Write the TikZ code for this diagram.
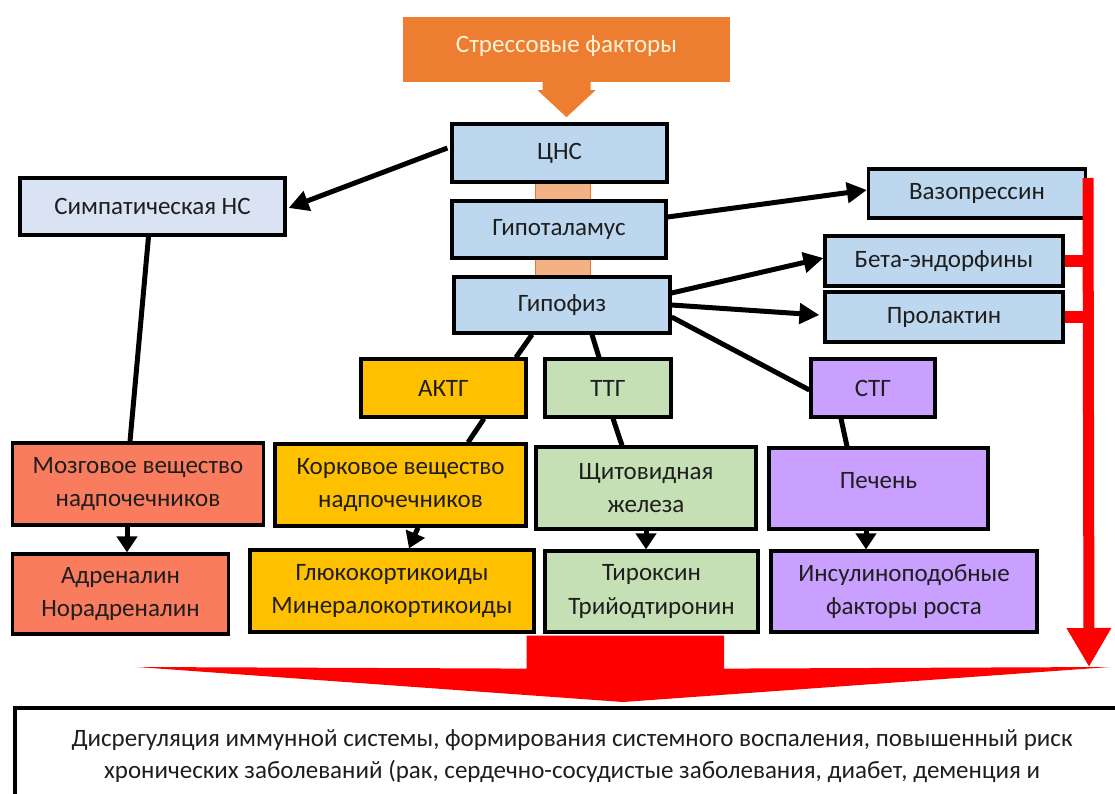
\documentclass[tikz,border=0pt]{standalone}
\usepackage{fontspec}
\setmainfont{Carlito}
\usetikzlibrary{arrows.meta,calc,backgrounds}

\definecolor{txt}{HTML}{1E1E1E}
\definecolor{stressor}{HTML}{ED7D31}
\definecolor{stresstxt}{HTML}{FFF4D6}
\definecolor{barfill}{HTML}{F4B183}
\definecolor{barline}{HTML}{E0783A}
\definecolor{cnsblue}{HTML}{BDD7EE}
\definecolor{paleblue}{HTML}{DAE3F3}
\definecolor{gold}{HTML}{FFC000}
\definecolor{pgreen}{HTML}{C5E0B4}
\definecolor{lilac}{HTML}{C9A0FF}
\definecolor{salmon}{HTML}{F97C5E}
\definecolor{alarm}{HTML}{FF0000}

\begin{document}
\begin{tikzpicture}[x=1pt,y=-1pt,
  box/.style={draw=black, line width=3.2pt, inner sep=0pt, align=center,
              text=txt, font=\fontsize{25}{33.5}\selectfont},
  link/.style={line width=5pt, draw=black},
  arr/.style={link, -{Triangle[length=20pt,width=20pt]}},
  sarr/.style={link, -{Triangle[length=16pt,width=20pt]}}]
\useasboundingbox (0,0) rectangle (1115,794);

% stress factors callout
\node[fill=stressor, inner sep=0pt, minimum width=327pt, minimum height=65pt,
      text=stresstxt, font=\fontsize{25}{33}\selectfont] (stress) at (566.5,49.5)
      {\raisebox{3pt}[\height][\depth]{Стрессовые факторы}};
\fill[stressor] ($(stress.south)+(-24,-1)$) -- ($(stress.south)+(24,-1)$) -- ($(stress.south)+(24,8)$)
  -- ($(stress.south)+(29,8)$) -- ($(stress.south)+(0,35)$) -- ($(stress.south)+(-29,8)$)
  -- ($(stress.south)+(-24,8)$) -- cycle;

% central axis
\node[box, fill=cnsblue, minimum width=215pt, minimum height=58pt] (cns) at (559.5,153) {ЦНС};
\node[box, fill=cnsblue, minimum width=214pt, minimum height=57pt] (hypoth) at (559,229.5) {Гипоталамус};
\node[box, fill=cnsblue, minimum width=216pt, minimum height=56pt] (hypoph) at (562,305) {Гипофиз};
\begin{scope}[on background layer]
  \draw[fill=barfill, draw=barline, line width=1pt]
    ($(cns.south)+(-24.5,0)$) rectangle ($(hypoph.north)+(28,0)$);
\end{scope}

\node[box, fill=paleblue, minimum width=265pt, minimum height=57pt] (symp) at (152.5,206.5) {Симпатическая НС};

% pituitary hormones
\node[box, fill=cnsblue, minimum width=217pt, minimum height=49pt] (vaso) at (977,193.5) {Вазопрессин};
\node[box, fill=cnsblue, minimum width=238pt, minimum height=50pt] (beta) at (944,261) {Бета-эндорфины};
\node[box, fill=cnsblue, minimum width=238pt, minimum height=50pt] (prol) at (944,317) {Пролактин};
\node[box, fill=gold, minimum width=165pt, minimum height=58pt] (aktg) at (443.5,388) {АКТГ};
\node[box, fill=pgreen, minimum width=126pt, minimum height=58pt] (ttg) at (608,388) {ТТГ};
\node[box, fill=lilac, minimum width=124pt, minimum height=58pt] (stg) at (873,388) {СТГ};

% target organs
\node[box, fill=salmon, minimum width=251pt, minimum height=82pt] (mozg) at (138,484) {Мозговое вещество\\надпочечников};
\node[box, fill=gold, minimum width=251pt, minimum height=82pt] (kork) at (400.5,485) {Корковое вещество\\надпочечников};
\node[box, fill=pgreen, minimum width=220pt, minimum height=82pt] (shchit) at (646,488) {Щитовидная\\железа};
\node[box, fill=lilac, minimum width=219pt, minimum height=81pt] (liver) at (878.5,488.5)
  {\raisebox{8pt}[\height][\depth]{Печень}};

% secreted hormones
\node[box, fill=salmon, minimum width=216pt, minimum height=80pt] (adren) at (120.5,594) {Адреналин\\Норадреналин};
\node[box, fill=gold, minimum width=284pt, minimum height=82pt] (gluko) at (392,591) {Глюкокортикоиды\\Минералокортикоиды};
\node[box, fill=pgreen, minimum width=213pt, minimum height=81pt] (tirox) at (651.5,591.5) {Тироксин\\Трийодтиронин};
\node[box, fill=lilac, minimum width=266pt, minimum height=81pt] (insul) at (904,591.5) {Инсулиноподобные\\факторы роста};

% connectors
\draw[arr] ($(cns.west)+(-3,-5)$) -- ($(symp.east)+(2,1.5)$);
\draw[link] ($(symp.south)+(-4,0)$) -- ($(mozg.north)+(-8,0)$);
\draw[arr] ($(hypoth.east)+(0,-12.5)$) -- ($(vaso.west)+(0,-3.5)$);
\draw[arr] ($(hypoph.east)+(0,-12)$) -- ($(beta.west)+(0,-3)$);
\draw[arr] ($(hypoph.east)+(0,0)$) -- ($(prol.west)+(-4,-2)$);
\draw[link] ($(hypoph.east)+(0,12)$) -- ($(stg.west)+(0,2)$);
\draw[link] ($(hypoph.south)+(-30,0)$) -- ($(aktg.north)+(72.5,0)$);
\draw[link] ($(hypoph.south)+(30,0)$) -- ($(ttg.north)+(-9,0)$);
\draw[link] ($(aktg.south)+(40.5,0)$) -- ($(kork.north)+(67.5,0)$);
\draw[link] ($(ttg.south)+(5,0)$) -- ($(shchit.north)+(-24,0)$);
\draw[link] ($(stg.south)+(-32,0)$) -- ($(liver.north)+(-31.5,0)$);
\draw[sarr] ($(mozg.south)+(-11,0)$) -- ($(adren.north)+(6.5,0)$);
\draw[sarr] ($(kork.south)+(17.5,0)$) -- ($(gluko.north)+(17,0)$);
\draw[sarr] ($(shchit.south)+(0,0)$) -- ($(tirox.north)+(-5.5,0)$);
\draw[sarr] ($(liver.south)+(-12.5,0)$) -- ($(insul.north)+(-38,0)$);

% outcome box
\node[draw=black, line width=3.2pt, fill=white, inner sep=0pt, minimum width=1130pt,
      minimum height=120pt] (final) at (580,768) {};
\node[inner sep=0pt, align=center, text=txt, font=\fontsize{25}{32}\selectfont] (finaltext) at (572,756)
  {Дисрегуляция иммунной системы, формирования системного воспаления, повышенный риск\\
   хронических заболеваний (рак, сердечно-сосудистые заболевания, диабет, деменция и};

% red collecting arrows
\coordinate (rtop) at (1088,178);
\coordinate (rtip) at (1089,667);
\draw[alarm, line width=11pt, -{Triangle[length=39pt,width=42pt]}] (rtop) -- (rtip);
\draw[alarm, line width=12pt] (beta.east) -- (beta.east -| rtop);
\draw[alarm, line width=12pt] (prol.east) -- (prol.east -| rtop);

\coordinate (bigtip) at (623,702);
\fill[alarm] ($(gluko.south east)+(-9,2)$) -- ($(tirox.south)+(72.5,2)$) -- ($(tirox.south)+(72.5,35)$)
  -- (1110,667) -- (bigtip) -- (137,667) -- ($(gluko.south east)+(-9,35)$) -- cycle;
\end{tikzpicture}
\end{document}
